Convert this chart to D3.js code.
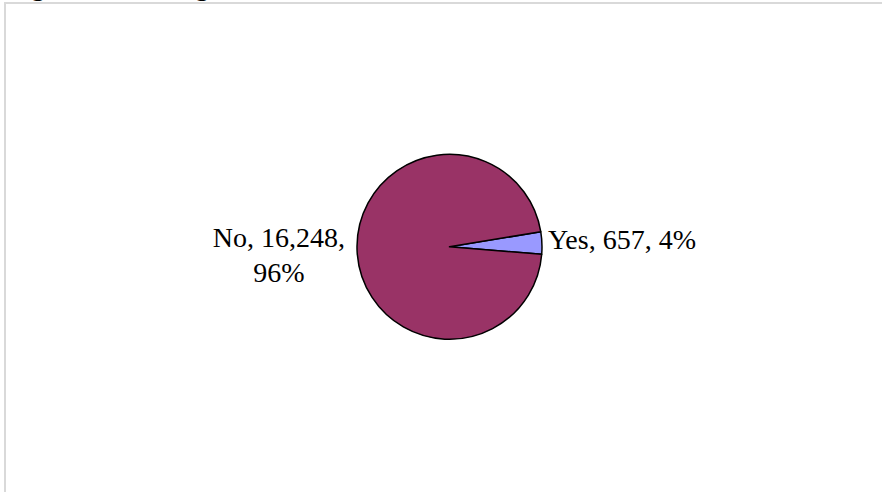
<!DOCTYPE html>
<html><head><meta charset="utf-8">
<script src="https://cdn.jsdelivr.net/npm/d3@7"></script>
<style>html,body{margin:0;padding:0;background:#fff;overflow:hidden}</style>
</head><body>
<svg id="c" width="882" height="492"></svg>
<script>
const categories = ["Yes", "No"];
const counts = [657, 16248];
const percents = ["4%", "96%"];
const colors = ["#9999FF", "#993366"];
const titleFragments = ["g", "g"];

const svg = d3.select("#c");

// outer chart frame (extends past the window on right/bottom)
svg.append("rect").attr("x", 5).attr("y", 3).attr("width", 900).attr("height", 520)
  .attr("fill", "#fff").attr("stroke", "#d9d9d9").attr("stroke-width", 2);

const font = "'Liberation Serif','Times New Roman',serif";

// clipped title descenders at very top
svg.selectAll("text.tf").data(titleFragments).join("text").attr("class", "tf")
  .attr("x", (d, i) => [38, 202][i]).attr("y", -5)
  .attr("text-anchor", "middle")
  .style("font-family", font).style("font-size", "28px")
  .text(d => d);

const cx = 449.5, cy = 246.8, r = 92.5;
const start = 80.6 * Math.PI / 180;
const data = categories.map((c, i) => ({cat: c, value: counts[i], pct: percents[i], color: colors[i]}));
const pie = d3.pie().value(d => d.value).sort(null).startAngle(start).endAngle(start + 2 * Math.PI);
const arcs = pie(data);
const arc = d3.arc().innerRadius(0).outerRadius(r);

const g = svg.append("g").attr("transform", `translate(${cx},${cy})`);
g.selectAll("path").data(arcs).join("path")
  .attr("d", arc).attr("fill", d => d.data.color)
  .attr("stroke", "#000").attr("stroke-width", 1.5).attr("stroke-linejoin", "round");

const fmt = d3.format(",");

// Yes label (right side, one line)
const yes = arcs[0];
const ya = (yes.startAngle + yes.endAngle) / 2;
g.append("text")
  .attr("x", Math.sin(ya) * (r + 6)).attr("y", -Math.cos(ya) * (r + 6) + 6)
  .attr("text-anchor", "start")
  .style("font-family", font).style("font-size", "28px").attr("fill", "#000")
  .text(`${yes.data.cat}, ${fmt(yes.data.value)}, ${yes.data.pct}`);

// No label (left side, two lines centered)
const no = arcs[1];
const na = (no.startAngle + no.endAngle) / 2;
const ax = Math.sin(na) * (r + 12), ay = -Math.cos(na) * (r + 12);
const t = g.append("text").style("font-family", font).style("font-size", "28px").attr("fill", "#000")
  .attr("text-anchor", "middle");
const l1 = t.append("tspan").text(`${no.data.cat}, ${fmt(no.data.value)},`);
const w1 = l1.node().getComputedTextLength();
const mx = ax - w1 / 2;
l1.attr("x", mx).attr("y", ay - 4);
t.append("tspan").attr("x", mx).attr("y", ay + 31).text(no.data.pct);
</script>
</body></html>
